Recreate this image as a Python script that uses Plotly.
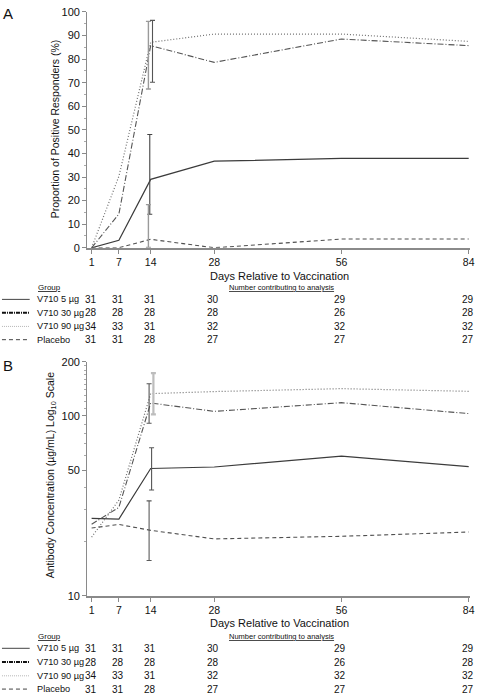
import math
import plotly.graph_objects as go

# ---------------- data ----------------
days = [1, 7, 14, 28, 56, 84]
day_labels = ["1", "7", "14", "28", "56", "84"]
groups = ["V710 5 µg", "V710 30 µg", "V710 90 µg", "Placebo"]

# Panel A: proportion of positive responders (%)
resp_5 = [0, 3.2, 29.0, 36.7, 37.9, 37.9]
resp_30 = [0, 14.3, 85.7, 78.6, 88.5, 85.7]
resp_90 = [0, 30.3, 87.1, 90.6, 90.6, 87.5]
resp_pl = [0, 0, 3.6, 0, 3.7, 3.7]
# 95% CI at day 14 (low, high)
resp_ci_5 = (14.2, 48.0)
resp_ci_30 = (67.3, 96.0)
resp_ci_90 = (70.2, 96.4)
resp_ci_pl = (0.1, 18.3)

# Panel B: antibody concentration (µg/mL)
gmt_5 = [26.9, 26.7, 51.0, 52.0, 59.7, 52.3]
gmt_30 = [25.0, 31.0, 118.0, 106.0, 118.5, 103.0]
gmt_90 = [21.2, 34.0, 133.0, 136.6, 141.8, 137.0]
gmt_pl = [23.8, 24.9, 23.1, 20.7, 21.4, 22.6]
gmt_ci_5 = (38.7, 66.5)
gmt_ci_30 = (91.0, 151.0)
gmt_ci_90 = (102.0, 173.0)
gmt_ci_pl = (15.7, 33.7)

# Number contributing to analysis
n_5 = [31, 31, 31, 30, 29, 29]
n_30 = [28, 28, 28, 28, 26, 28]
n_90 = [34, 33, 31, 32, 32, 32]
n_pl = [31, 31, 28, 27, 27, 27]

# ---------------- styles ----------------
W, H = 480, 700
FONT = "Liberation Sans, Arial, sans-serif"
TXT = "#111111"
AX = "#8a8a8a"

styles = {
    "V710 5 µg": dict(color="#3c3c3c", width=1.2, dash="solid"),
    "V710 30 µg": dict(color="#555555", width=1.1, dash="6px,2px,1px,2px"),
    "V710 90 µg": dict(color="#707070", width=1.2, dash="1px,2px"),
    "Placebo": dict(color="#505050", width=1.1, dash="4px,3px"),
}
legend_styles = {
    "V710 5 µg": dict(color="#444444", width=1, dash="solid"),
    "V710 30 µg": dict(color="#111111", width=2, dash="4px,1px,1px,1px"),
    "V710 90 µg": dict(color="#b5b5b5", width=1, dash="1px,1px"),
    "Placebo": dict(color="#444444", width=1, dash="4px,3px"),
}


def px(x):
    return x / W


def py(y):
    return 1 - y / H


fig = go.Figure()

panelA = {"V710 5 µg": resp_5, "V710 30 µg": resp_30, "V710 90 µg": resp_90, "Placebo": resp_pl}
panelB = {"V710 5 µg": gmt_5, "V710 30 µg": gmt_30, "V710 90 µg": gmt_90, "Placebo": gmt_pl}

for g in groups:
    fig.add_trace(go.Scatter(x=days, y=panelA[g], mode="lines", line=styles[g],
                             xaxis="x", yaxis="y", cliponaxis=False, showlegend=False))
    fig.add_trace(go.Scatter(x=days, y=panelB[g], mode="lines", line=styles[g],
                             xaxis="x2", yaxis="y2", cliponaxis=False, showlegend=False))


def add_err(day, value, ci, dx, color, thick, xa, ya):
    lo, hi = ci
    fig.add_trace(go.Scatter(
        x=[day + dx], y=[value], mode="markers", marker=dict(size=1, opacity=0),
        error_y=dict(type="data", symmetric=False, array=[hi - value], arrayminus=[value - lo],
                     color=color, thickness=thick, width=2.5),
        xaxis=xa, yaxis=ya, showlegend=False, cliponaxis=False))


i14 = days.index(14)
# Panel A error bars
add_err(14, resp_5[i14], resp_ci_5, -0.2, "#444444", 1.1, "x", "y")
add_err(14, resp_30[i14], resp_ci_30, -0.5, "#9a9a9a", 1.4, "x", "y")
add_err(14, resp_90[i14], resp_ci_90, 0.4, "#555555", 1.1, "x", "y")
add_err(14, resp_pl[i14], resp_ci_pl, -0.5, "#9a9a9a", 1.4, "x", "y")
# Panel B error bars
add_err(14, gmt_5[i14], gmt_ci_5, 0.2, "#555555", 1.1, "x2", "y2")
add_err(14, gmt_30[i14], gmt_ci_30, -0.35, "#555555", 1.1, "x2", "y2")
add_err(14, gmt_90[i14], gmt_ci_90, 0.6, "#bdbdbd", 2.2, "x2", "y2")
add_err(14, gmt_pl[i14], gmt_ci_pl, -0.35, "#5a5a5a", 1.1, "x2", "y2")

# ---------------- axes ----------------
xdom = [px(88), px(475)]
xcommon = dict(domain=xdom, range=[0, 84.3], tickmode="array", tickvals=days, ticktext=day_labels,
               ticks="outside", ticklen=4, tickcolor=AX, showline=True, linecolor=AX, linewidth=1.6,
               showgrid=False, zeroline=False, tickfont=dict(family=FONT, size=10.5, color=TXT))
ycommon = dict(ticks="outside", ticklen=4, tickcolor=AX, showline=True, linecolor=AX, linewidth=1,
               showgrid=False, zeroline=False, tickfont=dict(family=FONT, size=11, color=TXT))

minor_log = [20, 30, 40, 60, 70, 80, 90, 110, 120, 130, 140, 150, 160, 170, 180, 190]

fig.update_layout(
    width=W, height=H, margin=dict(l=0, r=0, t=0, b=0),
    paper_bgcolor="white", plot_bgcolor="white",
    font=dict(family=FONT, color=TXT),
    xaxis=dict(anchor="y", **xcommon),
    yaxis=dict(anchor="x", domain=[py(246), py(6)], range=[0, 100], tickmode="array",
               tickvals=list(range(0, 101, 10)),
               minor=dict(ticks="outside", ticklen=2, tickcolor="#aaaaaa", dtick=5, showgrid=False),
               **ycommon),
    xaxis2=dict(anchor="y2", **xcommon),
    yaxis2=dict(anchor="x2", domain=[py(600), py(362)], type="log",
                range=[1, math.log10(200)], tickmode="array", tickvals=[10, 50, 100, 200],
                ticktext=["10", "50", "100", "200"],
                minor=dict(ticks="outside", ticklen=2, tickcolor="#aaaaaa", tickmode="array",
                           tickvals=minor_log, showgrid=False),
                **ycommon),
)

ann = []


def text(x, y, s, size=10, xanchor="center", yanchor="middle", angle=0, xref="paper", xshift=0):
    ann.append(dict(x=x, y=y, xref=xref, yref="paper", text=s, showarrow=False,
                    xanchor=xanchor, yanchor=yanchor, textangle=angle, xshift=xshift,
                    font=dict(family=FONT, size=size, color=TXT)))


# panel letters
text(px(1), py(8), "A", size=15, xanchor="left")
text(px(1), py(366), "B", size=15, xanchor="left")

# axis titles
text(px(55), py(125), "Proportion of Positive Responders (%)", size=10.5, angle=-90)
text(px(51), py(477), "Antibody Concentration (µg/mL) Log<sub>10</sub> Scale", size=10.5, angle=-90)
text(px(282), py(274.5), "Days Relative to Vaccination", size=11)
text(px(282), py(627.5), "Days Relative to Vaccination", size=11)

# tables
counts = {"V710 5 µg": n_5, "V710 30 µg": n_30, "V710 90 µg": n_90, "Placebo": n_pl}
tables = [dict(xref="x", head=286.5, rows=[298.5, 312, 326, 339.5]),
          dict(xref="x2", head=641, rows=[653.5, 667.5, 681.5, 695])]
shapes = []
for t in tables:
    text(px(50), py(t["head"]), "<u>Group</u>", size=8)
    text(px(284), py(t["head"]), "<u>Number contributing to analysis</u>", size=7.5)
    for g, ry in zip(groups, t["rows"]):
        ls = legend_styles[g]
        shapes.append(dict(type="line", xref="paper", yref="paper", x0=px(2), x1=px(30),
                           y0=py(ry), y1=py(ry), line=dict(color=ls["color"], width=ls["width"], dash=ls["dash"])))
        text(px(35), py(ry), g, size=9.2, xanchor="left")
        for d, n in zip(days, counts[g]):
            text(d, py(ry), str(n), size=10, xref=t["xref"], xshift=-1)

fig.update_layout(annotations=ann, shapes=shapes)

fig.write_html(
    "out.html",
    config={"displayModeBar": False},
    post_script="document.body.style.margin='0';document.body.style.overflow='hidden';",
)
